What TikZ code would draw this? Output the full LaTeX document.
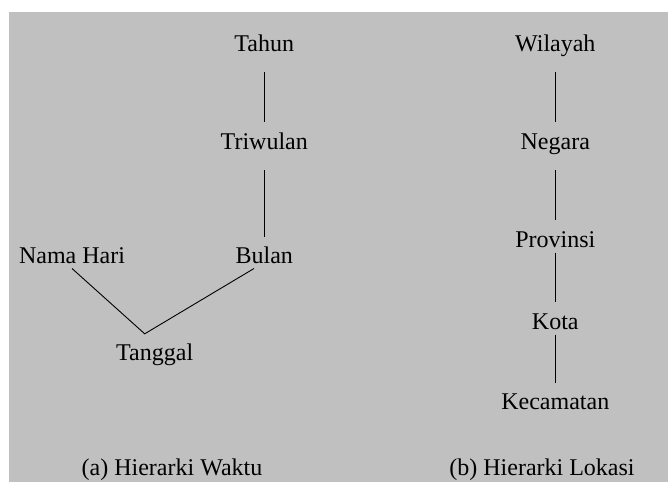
\documentclass[tikz,border=0pt]{standalone}
\usepackage{fontspec}
\setmainfont{Liberation Serif}
\usepackage{xcolor}
\usetikzlibrary{positioning, calc}
\definecolor{panelgray}{RGB}{192,192,192}

\begin{document}
\begin{tikzpicture}[x=1pt, y=-1pt,
    lvl/.style={inner sep=0pt, anchor=base, text height=15pt, text depth=5pt, font=\fontsize{24}{28}\selectfont},
    link/.style={draw, line width=0.9pt}]
% background panel
\useasboundingbox (0,0) rectangle (668,482);
\fill[panelgray] (9,12) rectangle (668,482);

% hierarki waktu
\node[lvl] (tahun) at (264.3,51.7) {Tahun};
\node[lvl] (triwulan) at (264.3,149.3) {Triwulan};
\node[lvl] (bulan) at (264.3,263.3) {Bulan};
\node[lvl] (namahari) at (72,263.3) {Nama Hari};
\node[lvl] (tanggal) at (154.7,360) {Tanggal};
\coordinate (temu) at ([xshift=-10pt, yshift=11pt]tanggal.north);

\draw[link, shorten <=15pt, shorten >=12.6pt] (tahun.south) -- (triwulan.north);
\draw[link, shorten <=15.7pt, shorten >=11.6pt] (triwulan.south) -- (bulan.north);
\draw[link] (namahari.south) -- (temu) -- ([xshift=-10.3pt]bulan.south);

% hierarki lokasi
\node[lvl] (wilayah) at (555.3,51.7) {Wilayah};
\node[lvl] (negara) at (555.3,149.3) {Negara};
\node[lvl] (provinsi) at (555.3,247.3) {Provinsi};
\node[lvl] (kota) at (555.3,329.3) {Kota};
\node[lvl] (kecamatan) at (555.3,409.3) {Kecamatan};

\draw[link, shorten <=15pt, shorten >=12.6pt] (wilayah.south) -- (negara.north);
\draw[link, shorten <=15.7pt, shorten >=12.3pt] (negara.south) -- (provinsi.north);
\draw[link, shorten >=12.6pt] (provinsi.south) -- (kota.north);
\draw[link, shorten >=11pt] (kota.south) -- (kecamatan.north);

% keterangan
\node[lvl] (capwaktu) at (172,475) {(a) Hierarki Waktu};
\node[lvl] (caplokasi) at (542,475) {(b) Hierarki Lokasi};
\end{tikzpicture}
\end{document}
